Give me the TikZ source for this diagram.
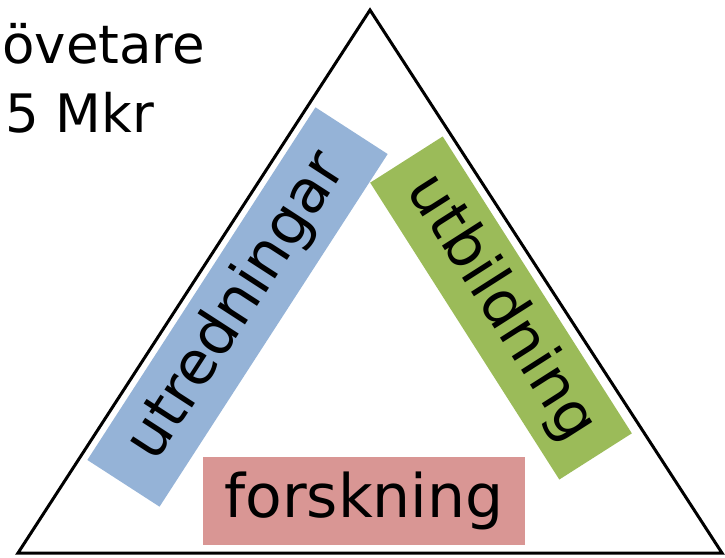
\documentclass[tikz,border=0pt]{standalone}
\usepackage{fontspec}
\setmainfont{DejaVu Sans}
\definecolor{boxblue}{HTML}{95B3D7}
\definecolor{boxgreen}{HTML}{9BBB59}
\definecolor{boxred}{HTML}{D99694}
\begin{document}
\begin{tikzpicture}[x=1pt,y=1pt,
  bigtext/.style={font=\fontsize{60}{70}\selectfont, inner sep=0pt},
  cornertext/.style={font=\fontsize{53}{64}\selectfont, inner sep=0pt, text=black},
  band/.style={minimum height=86pt, inner sep=0pt}]
\useasboundingbox (0,0) rectangle (725,-557);
% coloured bands
\node[band, fill=boxblue, minimum width=420pt, rotate=57.1] (utr) at (237.5,-307) {};
\node[bigtext, rotate=57.1] (utrt) at (utr.center) {utredningar};
\node[band, fill=boxgreen, minimum width=352pt, rotate=-57.5] (utb) at (501,-308) {};
\node[bigtext, rotate=-57.5] (utbt) at (utb.center) {utbildning};
\node[fill=boxred, minimum width=322pt, minimum height=88pt, inner sep=0pt] (for) at (364,-501) {};
\node[bigtext] (fort) at (for.center) {forskning};
% triangle
\coordinate (apex) at (370,-10);
\coordinate (bl) at (18,-553);
\coordinate (br) at (722,-553);
\draw[line width=3pt, line join=miter] (apex) -- (br) -- (bl) -- cycle;
% corner texts
\node[cornertext, anchor=base west] (t1) at (2,-63) {övetare};
\node[cornertext, anchor=base west] (t2) at (5,-132) {5 Mkr};
\end{tikzpicture}
\end{document}
